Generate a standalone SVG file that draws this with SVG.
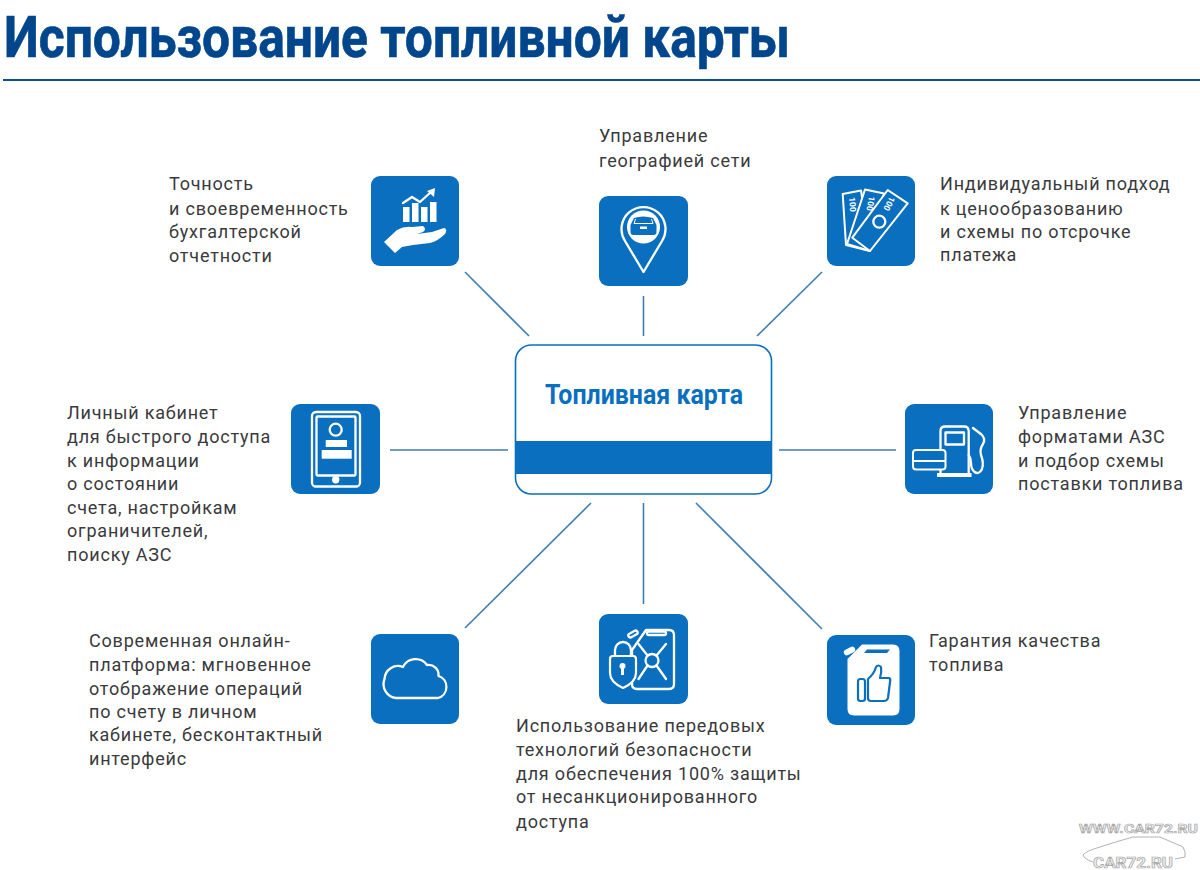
<svg xmlns="http://www.w3.org/2000/svg" width="1200" height="870" viewBox="0 0 1200 870">
<style>
text{font-family:"Roboto","Liberation Sans",sans-serif}
.t{font-size:18px;fill:#3a3a3c;letter-spacing:.8px}
.tile{fill:#0a6fbf}
.w{fill:#fff;stroke:none}
.o{fill:none;stroke:#fff;stroke-width:2.300;stroke-linejoin:round;stroke-linecap:round}
.ob{fill:#0a6fbf;stroke:#fff;stroke-width:2;stroke-linejoin:round}
.c{stroke:#3f7db6;stroke-width:1.600;fill:none}
.wm{font-weight:700;fill:#f1f1f1;stroke:#a9a9a9;stroke-width:.7}
</style>
<rect width="1200" height="870" fill="#fff"/>
<g id="title">
<text x="4" y="57" font-size="58" font-weight="700" fill="#00468c" stroke="#00468c" stroke-width=".7" textLength="786" lengthAdjust="spacingAndGlyphs">Использование топливной карты</text>
<rect x="3" y="79" width="1197" height="2" fill="#0a4c8e"/>
</g>
<g id="connectors" class="c">
<line x1="465" y1="272" x2="529" y2="336"/>
<line x1="643.500" y1="296" x2="643.500" y2="336"/>
<line x1="822" y1="272" x2="757" y2="336"/>
<line x1="390" y1="450" x2="508" y2="450"/>
<line x1="779" y1="450" x2="896" y2="450"/>
<line x1="591" y1="503" x2="465" y2="628"/>
<line x1="643.500" y1="503" x2="643.500" y2="604"/>
<line x1="696" y1="503" x2="822" y2="629"/>
</g>
<g id="center">
<rect x="515.500" y="345" width="256" height="149" rx="16" fill="#fff" stroke="#0a6fbf" stroke-width="1.600"/>
<rect x="516" y="441" width="255" height="33" fill="#0a6fbf"/>
<text x="545" y="404" font-size="27" font-weight="700" fill="#0a6fbf" textLength="198" lengthAdjust="spacingAndGlyphs">Топливная карта</text>
</g>
<g id="node-accounting">
<rect class="tile" x="371" y="176" width="88" height="90" rx="9"/>
<rect class="w" x="403" y="207" width="6.500" height="15"/>
<rect class="w" x="412" y="203" width="6.500" height="19"/>
<rect class="w" x="421" y="207" width="6.500" height="15"/>
<rect class="w" x="430" y="202" width="6.500" height="20"/>
<polyline class="o" points="403,203 412,197 420,202 431,192" stroke-width="2.600"/>
<polygon class="w" points="427,191 435,188 434,197"/>
<path class="w" d="M384 242 L397 230 Q404 226 412 227 L423 226 Q427 229 423 232 L417 234 L432 232 L444 228 Q448 229 445 234 Q438 241 430 243 L413 245 L402 247 L395 253 Z"/>
<text class="t" x="169" y="190">Точность</text>
<text class="t" x="169" y="214.500">и своевременность</text>
<text class="t" x="169" y="238">бухгалтерской</text>
<text class="t" x="169" y="262">отчетности</text>
</g>
<g id="node-geography">
<rect class="tile" x="599" y="196" width="89" height="90" rx="9"/>
<path class="o" d="M643.500 272 L625 241 A22 22 0 1 1 662 241 Z"/>
<circle class="w" cx="643.500" cy="227" r="16.500"/>
<path fill="#0a6fbf" d="M630.500 232 V225 L634 218 Q643 215 653 218 L656.500 225 V232 Q656.500 235 653.500 235 H633.500 Q630.500 235 630.500 232 Z"/>
<path d="M635.500 219 L634 223.500 H653 L651.500 219" fill="none" stroke="#fff" stroke-width="1"/>
<rect class="w" x="640" y="226.500" width="7" height="2.500"/>
<text class="t" x="599" y="142">Управление</text>
<text class="t" x="599" y="167">географией сети</text>
</g>
<g id="node-pricing">
<rect class="tile" x="827" y="176" width="88" height="90" rx="9"/>
<polygon class="ob" points="842.700,194 861,190.500 870,251 846,245"/>
<polygon class="ob" points="865,189.500 884,193.500 870,251 847,244"/>
<polygon class="ob" points="887.700,190 907.700,203.300 870,251 852.300,237.700"/>
<circle cx="879.300" cy="221.700" r="6" class="o" stroke-width="1.600"/>
<g font-size="8.500" font-weight="700" fill="#fff">
<text transform="translate(849,197.500) rotate(85)">100</text>
<text transform="translate(869,196) rotate(100)">100</text>
<text transform="translate(890,196) rotate(118)">100</text>
</g>
<text class="t" x="940" y="190">Индивидуальный подход</text>
<text class="t" x="940" y="215">к ценообразованию</text>
<text class="t" x="940" y="238">и схемы по отсрочке</text>
<text class="t" x="940" y="261">платежа</text>
</g>
<g id="node-cabinet">
<rect class="tile" x="291" y="404" width="89" height="90" rx="9"/>
<rect class="o" x="312" y="412" width="48" height="74.500" rx="4"/>
<rect class="o" x="316.500" y="416.500" width="39" height="59" rx="1" stroke-width="1.600"/>
<circle class="o" cx="335.700" cy="429.700" r="6"/>
<rect class="w" x="325.700" y="440" width="21.300" height="7"/>
<rect class="w" x="321.700" y="450" width="30" height="8.700"/>
<circle class="w" cx="335.700" cy="479.700" r="3.700"/>
<text class="t" x="67" y="419">Личный кабинет</text>
<text class="t" x="67" y="443">для быстрого доступа</text>
<text class="t" x="67" y="467">к информации</text>
<text class="t" x="67" y="490">о состоянии</text>
<text class="t" x="67" y="514">счета, настройкам</text>
<text class="t" x="67" y="537">ограничителей,</text>
<text class="t" x="67" y="561">поиску АЗС</text>
</g>
<g id="node-formats">
<rect class="tile" x="905" y="404" width="88" height="90" rx="9"/>
<path class="o" d="M940.500 473 V431 Q940.500 426.500 945 426.500 H964 Q968.700 426.500 968.700 431 V473"/>
<rect class="o" x="945.500" y="432.500" width="18.500" height="12" stroke-width="1.800"/>
<rect class="w" x="937" y="473" width="34.500" height="4"/>
<rect class="ob" x="913" y="450" width="32.500" height="19.500" rx="3"/>
<rect class="w" x="914" y="460" width="31" height="2"/>
<path class="o" d="M973 428 L981.500 434.500 Q986 439 983 444 Q979.500 449 981 455 Q984 463 982 469 Q979 475 974.500 472 Q971 469 971 463 Q971 458 968.700 455" stroke-width="2.500"/>
<text class="t" x="1018" y="419">Управление</text>
<text class="t" x="1018" y="443">форматами АЗС</text>
<text class="t" x="1018" y="467">и подбор схемы</text>
<text class="t" x="1018" y="490">поставки топлива</text>
</g>
<g id="node-platform">
<rect class="tile" x="371" y="634" width="88" height="90" rx="9"/>
<path class="o" stroke-width="2.500" d="M396 698 A14 14 0 0 1 384.500 679 A13.500 13.500 0 0 1 403 667 A14 14 0 0 1 427 665 A10 10 0 0 1 438.500 676 A11.500 11.500 0 0 1 438 698 Z"/>
<text class="t" x="89" y="647">Современная онлайн-</text>
<text class="t" x="89" y="671">платформа: мгновенное</text>
<text class="t" x="89" y="695">отображение операций</text>
<text class="t" x="89" y="718">по счету в личном</text>
<text class="t" x="89" y="741">кабинете, бесконтактный</text>
<text class="t" x="89" y="765">интерфейс</text>
</g>
<g id="node-security">
<rect class="tile" x="599" y="614" width="89" height="90" rx="9"/>
<path class="o" d="M646 630 H669 Q674 630 674 635 V684 Q674 689 669 689 H637 Q632 689 632 684 V650 Z"/>
<rect class="o" x="628" y="632" width="10" height="4" rx="2" transform="rotate(-28 633 634)" stroke-width="1.600"/>
<rect class="o" x="647" y="631.500" width="19" height="3.500" rx="1.700" stroke-width="1.400"/>
<circle class="o" cx="652" cy="660.500" r="6.500"/>
<path class="o" d="M638.500 644 L647.500 655.500 M666 644 L656.500 655.500 M638.500 679 L647.500 665.500 M666 679 L656.500 665.500"/>
<path d="M610 659 Q610 656 613 656 H633 Q636 656 636 659 V673 Q636 682 623 688 Q610 682 610 673 Z" fill="#0a6fbf" stroke="#fff" stroke-width="2.200" stroke-linejoin="round"/>
<path class="o" d="M615 656 V650 A8 8 0 0 1 631 650 V656"/>
<circle class="w" cx="622.500" cy="666" r="3"/>
<rect class="w" x="621" y="667" width="3" height="8"/>
<text class="t" x="516" y="732">Использование передовых</text>
<text class="t" x="516" y="756">технологий безопасности</text>
<text class="t" x="516" y="780">для обеспечения 100% защиты</text>
<text class="t" x="516" y="803">от несанкционированного</text>
<text class="t" x="516" y="828">доступа</text>
</g>
<g id="node-quality">
<rect class="tile" x="827" y="635" width="88" height="90" rx="9"/>
<path class="w" d="M862 644.500 H893 Q899.500 644.500 899.500 651 V709 Q899.500 715.500 893 715.500 H854 Q847.500 715.500 847.500 709 V659 Z"/>
<rect class="w" x="843.500" y="648" width="12" height="6" rx="3" transform="rotate(-27 849.500 651)"/>
<polygon fill="#0a6fbf" points="867,649.500 890,649.500 887,653 864,653"/>
<path d="M868 679 Q874 674 876 667 Q878 664 881 667 Q882 672 880 678 H889 Q891 679 890 682 L888 698 Q887 701 884 701 H871 Q868 701 868 698 Z" fill="none" stroke="#0a6fbf" stroke-width="2.200" stroke-linejoin="round"/>
<rect x="858" y="679" width="7" height="22" rx="2.500" fill="none" stroke="#0a6fbf" stroke-width="2.200"/>
<text class="t" x="929" y="647">Гарантия качества</text>
<text class="t" x="929" y="671">топлива</text>
</g>
<g id="watermark">
<path d="M1093 862 Q1084 859 1083 855 Q1086 851 1100 847 Q1118 841 1133 837 H1160 L1183 847 Q1186 852 1185 857 L1175 859" fill="none" stroke="#a9a9a9" stroke-width=".9"/>
<text class="wm" x="1079" y="833" font-size="13" textLength="119" lengthAdjust="spacingAndGlyphs">WWW.CAR72.RU</text>
<text class="wm" x="1093" y="868" font-size="15" textLength="80" lengthAdjust="spacingAndGlyphs">CAR72.RU</text>
</g>
</svg>
